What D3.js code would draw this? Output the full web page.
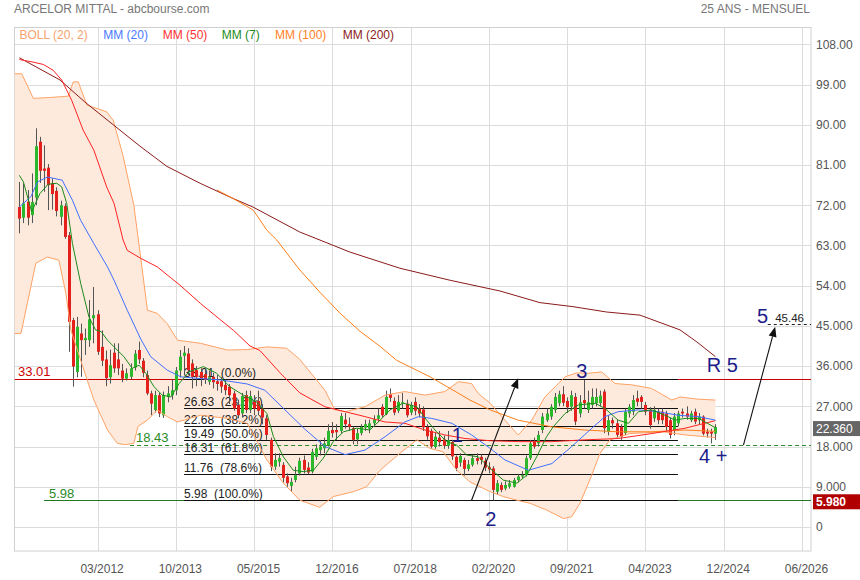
<!DOCTYPE html>
<html><head><meta charset="utf-8">
<script src="https://cdn.jsdelivr.net/npm/d3@7"></script>
<style>
body{margin:0;background:#fff;}
svg{display:block;font-family:"Liberation Sans",Arial,sans-serif;}
</style></head><body>
<svg id="chart" width="860" height="580"></svg>
<script>
// ---------- DATA (monthly candles, index 0 = 08/2010) ----------
const opens = [71.6,69.2,72.8,69.8,73.7,86.2,80.2,80.4,76.9,75.2,69.4,71.8,65.3,46.3,34.7,43.3,41.8,41.8,46.7,47.6,
40.3,37.5,33.5,39.0,37.5,35.0,33.2,33.6,35.7,39.6,37.2,34.0,29.9,26.2,29.5,25.0,29.1,29.5,30.6,35.0,
38.3,38.8,36.6,35.1,34.7,34.2,32.5,33.6,32.6,32.6,31.8,31.4,29.9,27.3,25.4,29.5,26.2,28.0,28.2,26.5,
24.3,19.5,13.5,14.6,13.9,11.3,9.2,10.5,12.0,15.0,13.3,12.4,15.7,17.2,17.6,18.3,21.7,21.7,21.5,24.0,
23.0,22.1,19.6,21.0,22.2,22.0,23.2,24.2,26.9,25.3,29.7,28.2,26.0,27.6,27.6,25.6,28.0,26.5,26.3,22.4,
21.5,17.9,20.0,19.6,18.2,19.0,15.7,14.4,15.0,13.0,13.9,15.4,15.7,14.8,13.4,13.1,7.9,9.4,8.6,9.0,
9.0,10.5,11.3,11.6,15.4,19.1,18.7,21.7,23.9,24.7,26.2,27.7,29.7,28.2,26.9,29.1,25.4,28.4,26.2,27.3,
27.7,27.7,30.3,21.3,23.9,23.2,22.4,21.0,25.4,25.8,28.8,29.1,27.3,26.2,24.3,25.8,25.8,25.4,23.9,21.5,
23.2,25.8,25.4,23.9,25.8,23.9,24.7,21.3,21.3,20.9];
const highs = [77.2,76.9,75.4,79.1,89.2,87.3,85.4,81.2,78.0,76.0,73.0,72.4,66.0,46.8,47.0,45.5,44.4,50.8,53.7,48.5,
44.0,39.5,39.7,41.1,41.1,36.5,35.5,36.6,39.6,41.5,37.8,35.0,30.5,30.5,30.0,30.3,31.5,33.0,35.8,39.6,
40.5,40.0,37.5,36.0,35.5,35.5,35.0,34.5,34.0,33.5,33.0,32.0,30.5,28.5,30.0,30.5,30.5,29.5,30.5,27.5,
25.0,20.0,16.5,16.5,14.5,12.0,11.0,13.5,15.5,16.0,14.5,17.5,18.5,19.5,20.0,23.0,23.5,23.0,25.5,25.5,
24.5,22.5,22.0,23.0,24.0,24.0,25.0,26.5,27.5,30.5,31.0,29.0,29.5,30.0,28.5,28.0,29.0,27.5,27.0,23.0,
22.0,21.0,21.5,20.5,21.5,19.5,16.0,16.5,15.5,15.0,16.2,16.5,16.2,15.5,14.5,13.6,10.5,10.0,10.2,10.5,
11.0,11.8,12.5,16.0,19.5,20.0,21.5,25.5,26.5,27.5,30.0,30.5,31.5,29.0,30.5,30.0,29.5,32.9,30.5,31.0,
31.0,30.5,30.8,25.0,24.5,24.0,23.0,26.5,27.5,29.5,30.5,29.5,28.0,26.8,27.0,26.5,26.5,26.0,24.5,25.5,
26.0,26.5,27.0,26.0,26.5,25.5,25.0,22.0,22.0,23.0];
const lows = [65.7,68.0,67.5,68.0,72.0,77.0,75.0,70.9,71.0,69.5,67.5,64.5,39.2,31.4,33.5,33.6,38.5,40.3,41.1,38.5,
36.0,31.5,32.1,34.5,34.0,32.4,32.8,33.0,35.0,36.5,33.5,29.5,25.0,25.6,24.6,24.4,27.9,28.5,29.5,33.5,
34.0,34.0,31.0,31.5,31.5,32.0,31.8,31.0,30.5,30.0,29.5,27.5,26.0,24.3,24.5,25.5,25.5,25.0,25.0,23.0,
19.5,12.5,12.8,13.5,10.0,9.0,7.9,10.0,11.5,12.0,11.8,12.0,15.0,16.0,16.5,18.0,20.0,19.5,21.0,22.0,
21.5,18.5,18.5,20.5,21.5,21.0,22.5,23.5,24.5,25.0,28.0,25.0,25.5,26.5,24.5,25.0,25.0,24.5,21.5,19.5,
17.5,17.5,18.0,17.5,17.5,15.0,12.5,13.5,11.5,12.5,13.5,14.0,14.0,12.5,12.0,5.98,7.2,7.8,8.2,8.6,
8.8,10.0,10.8,11.3,15.0,17.5,18.0,21.0,23.5,24.0,25.5,27.0,27.0,25.5,26.0,22.8,24.5,26.5,25.5,26.5,
27.0,27.0,21.0,20.5,22.0,20.0,19.5,20.5,24.5,25.0,27.0,26.5,25.0,22.0,23.5,23.0,23.0,21.5,19.8,20.5,
22.5,24.5,24.0,23.5,23.0,23.0,20.5,20.0,18.7,19.5];
const closes = [69.0,72.4,69.2,72.7,85.2,79.7,79.7,76.5,74.5,70.7,72.0,64.9,45.9,35.9,44.8,41.8,42.3,46.5,47.4,39.2,
37.2,33.3,36.2,35.5,35.5,33.2,34.4,35.5,38.8,37.5,34.5,29.9,27.6,29.5,25.4,29.5,29.9,30.6,35.0,38.1,
39.0,35.1,33.6,33.6,33.2,32.9,33.5,32.4,32.0,31.4,30.6,29.5,26.5,25.0,29.3,26.2,29.3,26.5,26.0,24.5,
20.6,13.5,15.0,15.4,11.0,9.8,10.1,11.6,14.8,12.8,12.2,16.8,17.6,18.0,18.7,21.5,21.0,21.2,24.8,23.0,
22.4,19.5,21.0,22.4,23.0,23.2,24.1,25.0,25.0,29.1,28.9,25.6,28.0,27.9,25.0,27.3,26.0,25.4,22.3,20.3,
18.0,20.2,19.0,18.2,19.4,15.8,13.2,15.9,13.0,14.0,15.4,14.8,15.0,13.3,12.9,8.3,9.8,8.3,9.4,9.8,
10.5,11.3,11.6,15.4,18.7,18.0,20.6,24.7,25.4,26.9,29.1,29.7,27.8,26.8,29.5,23.6,27.9,27.7,27.9,29.1,
29.1,29.4,22.1,23.9,23.2,20.6,20.2,25.8,26.9,28.4,28.0,28.0,25.8,22.8,26.2,23.9,23.9,22.4,20.6,24.7,
25.4,25.4,24.7,25.4,23.6,24.7,20.9,20.9,20.9,22.36];

// indicator lines: [month index, value]
const mm200 = [[0,105.0],[9.9,100.0],[15.9,95.1],[23.2,89.7],[29.3,85.2],[35.8,80.7],[43.9,76.9],[51.9,73.5],[56.7,71.6],[68.1,66.0],[80.3,61.5],[92.4,57.9],[104.6,55.2],[116.7,52.8],[126.4,50.2],[134.4,49.3],[142.6,48.1],[150.7,47.4],[160.4,44.1],[164.5,41.4],[169,38.1]];
const mm100 = [[48.0,75.4],[51.9,73.5],[56.8,70.9],[60.1,66.4],[62.5,64.2],[68.1,57.5],[73.0,52.5],[77.9,47.8],[82.7,43.8],[87.6,40.4],[91.6,37.3],[99.7,33.6],[104.6,31.0],[109.4,28.4],[114.3,26.2],[121.1,23.9],[129.3,22.4],[137.3,21.7],[145.4,21.3],[153.6,21.3],[161.6,21.7],[169,21.4]];
const mm50 = [[0,104.6],[3.4,104.0],[5.8,103.5],[8.2,102.2],[10.3,100.0],[12.7,95.5],[15.5,88.8],[18.1,84.3],[21.2,76.1],[23.0,72.4],[25.2,64.2],[26.2,61.9],[29.5,60.1],[33.5,58.2],[39.0,54.1],[44.0,50.0],[48.9,46.3],[52.0,44.0],[56.0,40.5],[58.4,39.5],[63.3,34.5],[68.1,30.0],[74.2,26.9],[79.1,25.8],[83.9,24.7],[88.8,23.5],[93.6,23.2],[98.5,21.7],[103.3,20.6],[108.2,19.8],[114.3,19.3],[121.1,19.1],[129.3,19.1],[137.3,19.5],[145.4,19.8],[153.5,20.9],[161.6,22.1],[169,23.8]];
const mm20 = [[0,71.6],[2.8,73.9],[4.4,77.2],[6.8,78.3],[10.4,77.6],[12.9,73.1],[14.9,68.6],[18.1,63.4],[21.4,58.2],[23.0,55.2],[26.2,48.5],[29.5,42.0],[31.9,38.1],[35.9,35.1],[39.2,33.6],[44.0,33.2],[48.9,32.9],[55.3,32.0],[59.6,30.6],[64.5,26.2],[69.3,21.9],[74.2,18.0],[79.1,16.2],[83.9,17.2],[88.8,20.2],[93.6,23.5],[96.9,24.7],[100.1,24.3],[105.0,23.2],[109.8,20.6],[114.3,17.6],[117.9,15.0],[123.6,12.7],[129.3,14.2],[134.1,18.0],[139.0,22.1],[142.2,24.7],[145.4,25.8],[150.3,26.2],[155.1,25.8],[160.0,25.0],[164.8,24.7],[169,23.9]];
const mm7 = [[0,78.7],[1.0,77.2],[3.0,70.5],[5.0,74.6],[7.0,76.7],[9.1,76.9],[10.3,76.1],[11.5,72.4],[12.9,63.4],[14.9,54.5],[16.9,47.0],[18.5,44.1],[19.9,43.7],[21.4,41.8],[23.0,40.3],[25.4,38.1],[27.4,35.5],[29.1,36.2],[30.7,34.4],[32.7,31.4],[34.7,29.5],[36.8,29.1],[38.8,32.1],[41.2,34.7],[44.7,35.9],[47.9,34.4],[51.1,31.4],[54.4,29.5],[57.6,28.0],[60.1,25.4],[61.7,20.2],[64.1,15.7],[66.5,12.7],[68.9,12.4],[71.4,12.7],[73.8,15.4],[76.2,19.1],[78.7,21.3],[81.9,22.1],[85.1,21.7],[87.6,23.9],[90.0,26.2],[93.2,27.7],[96.5,26.9],[98.9,23.9],[101.3,21.3],[103.8,19.1],[106.2,18.3],[108.6,16.1],[111.4,15.7],[114.3,13.1],[117.5,10.5],[120.8,9.8],[123.2,11.6],[125.6,15.7],[128.0,20.2],[129.6,22.4],[132.5,25.4],[135.7,27.3],[139.8,27.7],[142.2,26.5],[145.4,23.9],[147.9,23.2],[150.3,25.8],[153.5,26.2],[156.8,25.0],[159.2,23.9],[161.6,24.3],[164.9,24.3],[169,22.2]];
const bollUp = [[-1.2,101.4],[0.6,101.4],[3.4,95.9],[7.4,96.1],[11.9,96.4],[13.1,99.6],[14.3,99.6],[16.4,94.4],[21.2,92.9],[22.8,91.0],[25.2,83.0],[27.8,72.0],[29.5,60.0],[31.1,48.5],[33.5,47.8],[35.9,45.5],[38.4,41.8],[44.0,41.1],[50.5,39.6],[55.3,39.7],[60.1,40.3],[64.9,40.0],[68.1,37.5],[70.2,35.1],[74.2,30.6],[76.6,26.2],[79.1,25.8],[83.9,26.9],[88.8,29.5],[93.6,30.3],[98.5,29.5],[103.3,30.3],[106.6,32.5],[109.8,32.1],[111.4,29.9],[114.3,27.7],[117.9,23.9],[121.1,20.6],[124.4,23.9],[127.6,29.1],[130.1,31.4],[132.5,33.6],[135.3,34.5],[138.1,34.4],[141.4,34.7],[144.6,32.1],[148.7,31.8],[153.5,31.0],[158.4,28.4],[160.4,29.1],[164.8,28.6],[169,28.4]];
const bollLow = [[-1.2,43.3],[0.4,43.3],[4.0,59.0],[6.8,60.4],[9.6,59.7],[11.3,52.3],[12.5,44.1],[14.9,37.3],[18.1,28.4],[21.4,21.7],[23.8,18.7],[25.7,18.43],[27.8,18.7],[28.8,22.5],[31.1,23.9],[33.5,26.2],[35.9,24.7],[38.4,23.5],[44.0,25.0],[50.5,24.3],[55.3,23.2],[60.1,15.0],[64.1,9.8],[68.1,6.0],[72.9,4.4],[76.2,6.8],[81.1,7.9],[84.3,9.0],[87.6,12.7],[92.4,16.5],[94.9,18.3],[96.5,19.5],[99.7,17.6],[102.9,16.8],[106.2,12.7],[109.4,10.1],[114.3,7.9],[117.5,6.8],[120.8,6.0],[124.0,5.3],[128.0,3.8],[132.1,1.9],[134.1,2.3],[136.1,5.3],[138.5,10.5],[141.0,16.5],[143.4,19.5],[148.2,20.9],[156.3,21.3],[161.6,20.6],[169,20.0]];

const fibLevels = [33.01,26.63,22.68,19.49,16.31,11.76,5.98];
const fibPct = ["0.0%","23.6%","38.2%","50.0%","61.8%","78.6%","100.0%"];
const fibRange = [40, 159.9];          // month indices where the retracement is drawn
const resistance = 33.01, support = 5.98, bandLow = 18.43, target = 45.46, lastPrice = 22.36;

const waveLabels = [["1",105.0,19.1],["2",113.1,0.22],["3",135.2,33.3],["R 5",166.9,34.7],["4 +",165.0,14.3],["5",179.1,45.55]];
const arrows = [[109.8,6.0,121.1,33.3],[175.8,18.3,183.5,44.8]];

const yTicks = [0,9,18,27,36,45,54,63,72,81,90,99,108];
const yTickLabels = ["0","9.000","18.000","27.000","36.000","45.000","54.00","63.00","72.00","81.00","90.00","99.00","108.00"];
const xTicks = [19,38,57,76,95,114,133,152,171,190];
const xTickLabels = ["03/2012","10/2013","05/2015","12/2016","07/2018","02/2020","09/2021","04/2023","12/2024","06/2026"];

const legendItems = [["BOLL (20, 2)","#f7a26e"],["MM (20)","#4a78ff"],["MM (50)","#ff3030"],["MM (7)","#228b22"],["MM (100)","#ff7f1f"],["MM (200)","#8b2020"]];

// ---------- CHART ----------
const svg = d3.select("#chart");
const P = {l:14.5, r:811, t:27.5, b:551};
const x = d3.scaleLinear().domain([-1.17,192.2]).range([P.l,P.r]);
const y = d3.scaleLinear().domain([0,108]).range([527,44.3]);
const px = v => Math.round(v)+0.5;

svg.append("defs").append("clipPath").attr("id","clip")
  .append("rect").attr("x",P.l).attr("y",P.t).attr("width",P.r-P.l).attr("height",P.b-P.t);

// title
svg.append("text").attr("x",14).attr("y",12.5).attr("font-size",12).attr("fill","#777").text("ARCELOR MITTAL - abcbourse.com");
svg.append("text").attr("x",810).attr("y",12.5).attr("text-anchor","end").attr("font-size",12).attr("fill","#777").text("25 ANS - MENSUEL");

// grid
const grid = svg.append("g");
grid.selectAll("line.h").data(yTicks).join("line")
  .attr("x1",P.l).attr("x2",P.r).attr("y1",d=>px(y(d))).attr("y2",d=>px(y(d)))
  .attr("stroke","#dcdcdc");
grid.selectAll("line.v").data(xTicks).join("line")
  .attr("y1",P.t).attr("y2",P.b).attr("x1",d=>px(x(d))).attr("x2",d=>px(x(d)))
  .attr("stroke","#dcdcdc");
svg.append("rect").attr("x",P.l).attr("y",P.t).attr("width",P.r-P.l).attr("height",P.b-P.t)
  .attr("fill","none").attr("stroke","#d0d0d0");

// legend
const legX = [19.5,103.3,162.7,221.7,275,342.7];
svg.append("g").selectAll("text").data(legendItems).join("text")
  .attr("x",(d,i)=>legX[i]).attr("y",39.3).attr("font-size",12).attr("fill",d=>d[1]).text(d=>d[0]);

const plot = svg.append("g").attr("clip-path","url(#clip)");
const line = d3.line().x(d=>x(d[0])).y(d=>y(d[1]));

// bollinger band
plot.append("path").attr("d", line(bollUp.concat(bollLow.slice().reverse())) + "Z")
  .attr("fill","#feeadc").attr("stroke","none");

// horizontal level lines
plot.append("line").attr("x1",P.l).attr("x2",P.r).attr("y1",px(y(resistance))).attr("y2",px(y(resistance)))
  .attr("stroke","#cc0000");
plot.append("line").attr("x1",x(6)).attr("x2",P.r).attr("y1",px(y(support))).attr("y2",px(y(support)))
  .attr("stroke","#1f7a1f");
plot.append("line").attr("x1",x(26.9)).attr("x2",P.r).attr("y1",px(y(bandLow))).attr("y2",px(y(bandLow)))
  .attr("stroke","#2a8a2a").attr("stroke-dasharray","4,3");
plot.append("line").attr("x1",x(181.7)).attr("x2",P.r).attr("y1",px(y(target))).attr("y2",px(y(target)))
  .attr("stroke","#222").attr("stroke-dasharray","3,3");

svg.append("text").attr("x",18).attr("y",y(resistance)-3).attr("font-size",13).attr("fill","#cc0000").text(resistance.toFixed(2));
svg.append("text").attr("x",136).attr("y",y(bandLow)-2.5).attr("font-size",13).attr("fill","#2a8a2a").text(bandLow.toFixed(2));
svg.append("text").attr("x",49).attr("y",y(support)-2).attr("font-size",13).attr("fill","#2a8a2a").text(support.toFixed(2));

// fibonacci
const fib = plot.append("g");
fib.selectAll("line").data(fibLevels).join("line")
  .attr("x1",x(fibRange[0])).attr("x2",x(fibRange[1]))
  .attr("y1",d=>px(y(d))).attr("y2",d=>px(y(d))).attr("stroke","#111");
fib.selectAll("text").data(fibLevels).join("text")
  .attr("x",x(fibRange[0])).attr("y",d=>y(d)-2).attr("font-size",12).attr("fill","#222")
  .style("white-space","pre").text((d,i)=>d.toFixed(2)+"  ("+fibPct[i]+")");

// candles
const candles = closes.map((c,i)=>({i,o:opens[i],h:highs[i],l:lows[i],c}));
const cg = plot.append("g");
cg.selectAll("line").data(candles).join("line")
  .attr("x1",d=>px(x(d.i))).attr("x2",d=>px(x(d.i)))
  .attr("y1",d=>y(d.h)).attr("y2",d=>y(d.l)).attr("stroke","#555").attr("stroke-width",1);
cg.selectAll("rect").data(candles).join("rect")
  .attr("x",d=>Math.round(x(d.i))-1).attr("width",3)
  .attr("y",d=>y(Math.max(d.o,d.c))).attr("height",d=>Math.max(1,Math.abs(y(d.o)-y(d.c))))
  .attr("fill",d=>d.c>d.o?"#2cb82c":"#e3201b");

// band outlines and moving averages
const series = [[bollUp,"#ffa265"],[bollLow,"#ffa265"],[mm200,"#8b1a1a"],[mm100,"#ff7f1a"],[mm50,"#ff2222"],[mm20,"#3f6fff"],[mm7,"#1a8a1a"]];
plot.selectAll("path.ma").data(series).join("path").attr("class","ma")
  .attr("d",d=>line(d[0])).attr("fill","none").attr("stroke",d=>d[1]).attr("stroke-width",1);

// wave annotations
svg.append("g").selectAll("text").data(waveLabels).join("text")
  .attr("x",d=>x(d[1])).attr("y",d=>y(d[2])).attr("font-size",20).attr("fill","#1c1c8a")
  .style("white-space","pre").text(d=>d[0]);
svg.append("text").attr("x",x(183.5)).attr("y",y(target)-2).attr("font-size",11.5).attr("fill","#222").text(target.toFixed(2));

const ag = svg.append("g");
arrows.forEach(a=>{
  const x0=x(a[0]),y0=y(a[1]),x1=x(a[2]),y1=y(a[3]);
  const ang=Math.atan2(y1-y0,x1-x0), L=10, Wd=4;
  const bx=x1-L*Math.cos(ang), by=y1-L*Math.sin(ang);
  ag.append("line").attr("x1",x0).attr("y1",y0).attr("x2",bx).attr("y2",by).attr("stroke","#111").attr("stroke-width",1.1);
  ag.append("path").attr("d",`M${x1},${y1}L${bx+Wd*Math.sin(ang)},${by-Wd*Math.cos(ang)}L${bx-Wd*Math.sin(ang)},${by+Wd*Math.cos(ang)}Z`).attr("fill","#111");
});

// axes
const yAxis = d3.axisRight(y).tickValues(yTicks).tickFormat((d,i)=>yTickLabels[i]).tickSize(0).tickPadding(5);
const ya = svg.append("g").attr("transform",`translate(${P.r},0)`).call(yAxis);
ya.select(".domain").remove();
ya.selectAll("text").attr("font-size",12).attr("fill","#555").attr("font-family","'Liberation Sans',Arial,sans-serif");

const xAxis = d3.axisBottom(x).tickValues(xTicks).tickFormat((d,i)=>xTickLabels[i]).tickSize(0).tickPadding(13);
const xa = svg.append("g").attr("transform",`translate(0,${P.b})`).call(xAxis);
xa.select(".domain").remove();
xa.selectAll("text").attr("dx",4).attr("font-size",12).attr("fill","#555").attr("font-family","'Liberation Sans',Arial,sans-serif");

// price boxes
const boxes = [[lastPrice,"#666666","normal",3],[support,"#b00000","bold",3]];
boxes.forEach(b=>{
  svg.append("rect").attr("x",813).attr("y",y(b[0])-6).attr("width",47).attr("height",15).attr("fill",b[1]);
  svg.append("text").attr("x",816).attr("y",y(b[0])+6).attr("font-size",12).attr("font-weight",b[2]).attr("fill","#fff").text(b[0].toFixed(b[3]));
});
</script></body></html>
